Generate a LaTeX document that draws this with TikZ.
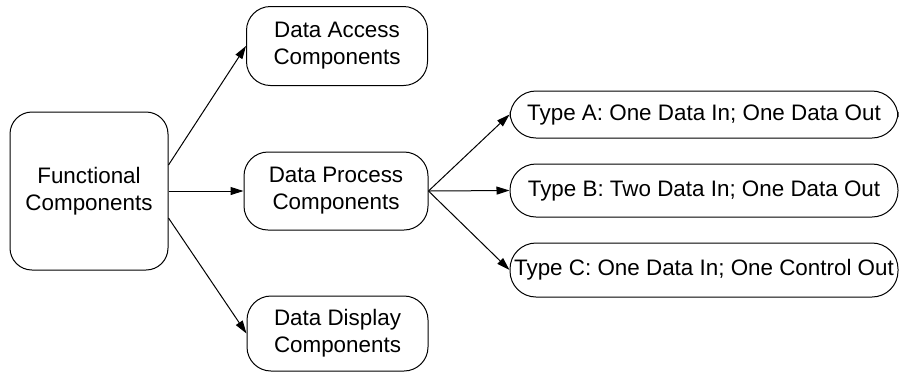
\documentclass[tikz,border=0pt]{standalone}
\usepackage{fontspec}
\setmainfont{Liberation Sans}
\usetikzlibrary{arrows.meta}
\begin{document}
\begin{tikzpicture}[x=0.5pt,y=-0.5pt,
  box/.style={draw,line width=0.5pt,rounded corners=12pt,align=center,inner sep=0pt,
    font=\fontsize{11.2}{13.5}\selectfont},
  pill/.style={box,rounded corners=13pt},
  conn/.style={line width=0.5pt,-{Triangle[length=6.5pt,width=4pt]}}]
\useasboundingbox (0,0) rectangle (899,372);
\node[box,rounded corners=11pt,minimum width=79pt,minimum height=79pt] (fc) at (89,191) {Functional\\Components};
\node[box,minimum width=90.5pt,minimum height=39.5pt] (da) at (337,46) {Data Access\\Components};
\node[box,minimum width=92pt,minimum height=39pt] (dp) at (336,191) {Data Process\\Components};
\node[box,minimum width=90.5pt,minimum height=37.5pt] (dd) at (337.5,333.5) {Data Display\\Components};
\node[pill,minimum width=194pt,minimum height=23.5pt] (ta) at (704,114.5) {Type A: One Data In; One Data Out};
\node[pill,minimum width=194pt,minimum height=26.5pt] (tb) at (704,190.5) {Type B: Two Data In; One Data Out};
\node[pill,minimum width=194pt,minimum height=27pt] (tc) at (704,270) {Type C: One Data In; One Control Out};
\draw[conn] ([yshift=13pt]fc.east) -- (da.west);
\draw[conn] (fc.east) -- (dp.west);
\draw[conn] ([yshift=-13.5pt]fc.east) -- (dd.west);
\draw[conn] (dp.east) -- (ta.west);
\draw[conn] (dp.east) -- (tb.west);
\draw[conn] (dp.east) -- (tc.west);
\end{tikzpicture}
\end{document}
